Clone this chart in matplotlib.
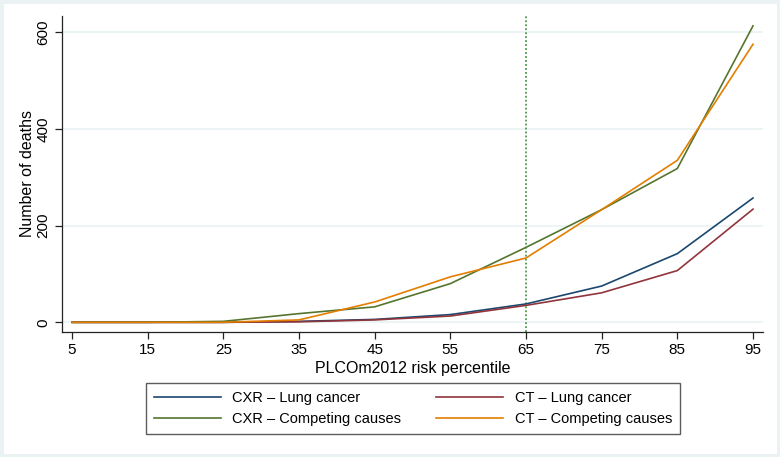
import matplotlib
matplotlib.use('Agg')
import matplotlib.pyplot as plt
from matplotlib.patches import Rectangle

plt.rcParams['font.family'] = ['Liberation Sans', 'DejaVu Sans']

# risk percentiles
pct = [5, 15, 25, 35, 45, 55, 65, 75, 85, 95]
# number of deaths per series
cxr_lung = [0, 0, 0, 2, 6, 16, 38, 75, 142, 257]
ct_lung = [0, 0, 0, 1, 5, 13, 35, 61, 107, 234]
cxr_comp = [0, 0, 2, 18, 32, 80, 155, 233, 318, 613]
ct_comp = [0, 0, 0, 5, 42, 94, 133, 233, 335, 575]
cutoff = 65

fig = plt.figure(figsize=(7.8, 4.57), dpi=100)
# faint frame like the stata graph region
fig.patches.append(Rectangle((0, 0), 1, 1, transform=fig.transFigure,
                             fill=False, edgecolor='#eaf2f3', linewidth=5))

ax = fig.add_axes([0.0795, 0.2746, 0.8985, 0.69])

l1, = ax.plot(pct, cxr_lung, color='#1a476f', lw=1.2, label='CXR \u2013 Lung cancer')
l2, = ax.plot(pct, ct_lung, color='#90353b', lw=1.2, label='CT \u2013 Lung cancer')
l3, = ax.plot(pct, cxr_comp, color='#55752f', lw=1.2, label='CXR \u2013 Competing causes')
l4, = ax.plot(pct, ct_comp, color='#e37e00', lw=1.2, label='CT \u2013 Competing causes')
ax.axvline(cutoff, color='#4c9a4c', lw=1.3, ls=(0, (1, 1.2)), zorder=1)

ax.set_xlim(3.68, 96.3)
ax.set_ylim(-19, 633)
ax.set_xticks(pct)
ax.set_yticks([0, 200, 400, 600])
ax.grid(axis='y', color='#eaf2f3', lw=1.2, zorder=0)
ax.set_axisbelow(True)

for s in ['top', 'right']:
    ax.spines[s].set_visible(False)
for s in ['left', 'bottom']:
    ax.spines[s].set_color('#222222')
    ax.spines[s].set_linewidth(0.9)

ax.tick_params(axis='both', labelsize=11, length=5, color='#222222', width=0.9)
for lab in ax.get_yticklabels():
    lab.set_rotation(90)
    lab.set_va('center')

ax.set_xlabel('PLCOm2012 risk percentile', fontsize=11.5, labelpad=3)
ax.set_ylabel('Number of deaths', fontsize=11.5, labelpad=1)

# column-wise fill -> order so rows read CXR/CT
leg = fig.legend([l1, l3, l2, l4], [l.get_label() for l in (l1, l3, l2, l4)],
                 loc='center', bbox_to_anchor=(0.5295, 0.106), ncol=2, fontsize=10.5,
                 frameon=True, fancybox=False, edgecolor='#333333',
                 handlelength=4.6, handletextpad=0.8, columnspacing=2.4,
                 borderpad=0.55, labelspacing=0.45)
leg.get_frame().set_linewidth(1.0)

fig.savefig('out.png', dpi=100)
